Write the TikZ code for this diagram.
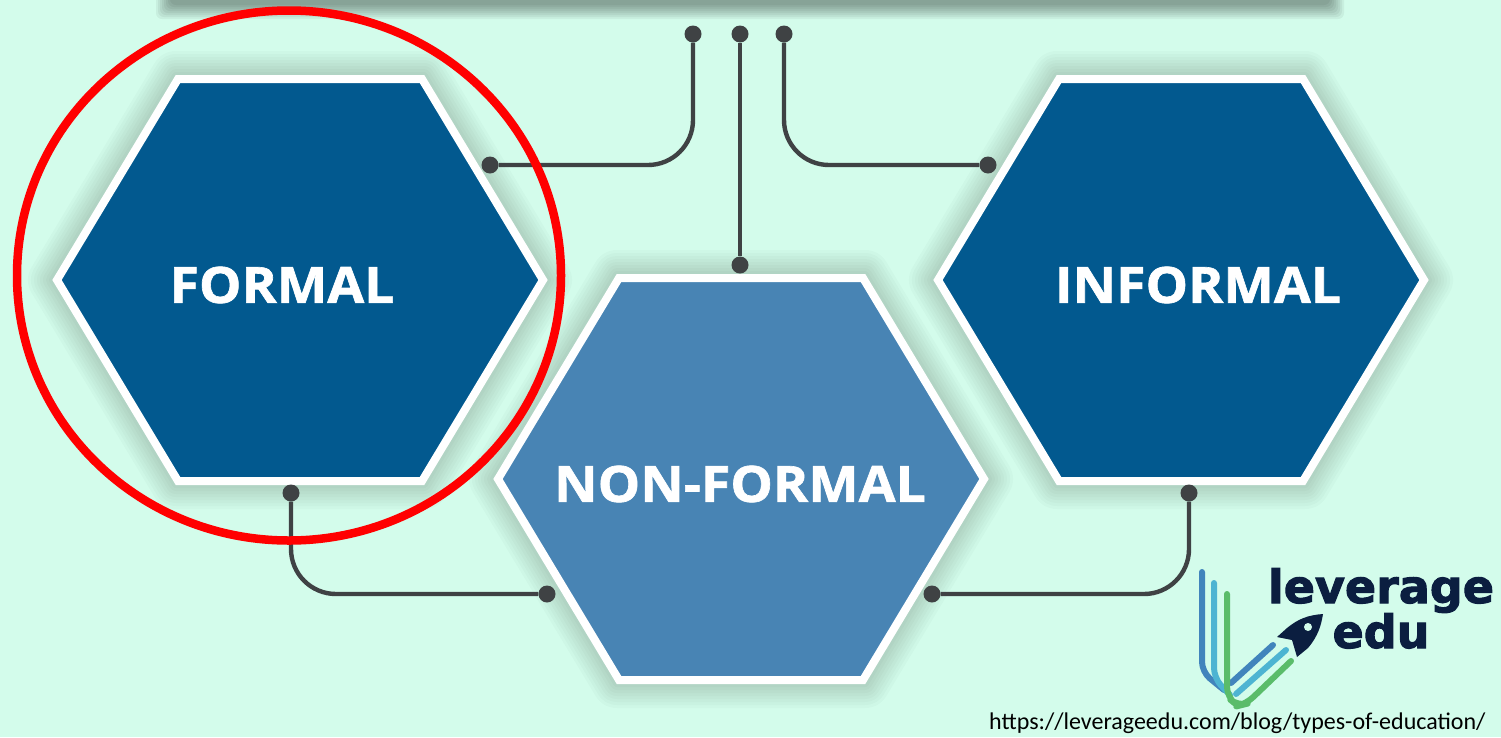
\documentclass[tikz,border=0pt]{standalone}
\usepackage{fontspec}
\usetikzlibrary{shapes.geometric}
\newfontfamily\hexfont[BoldFeatures={FakeBold=1.3,FakeStretch=1.07}]{Open Sans}
\newfontfamily\urlfont{Carlito}
\newfontfamily\logofont[BoldFeatures={FakeBold=2.2}]{DejaVu Sans}
\definecolor{bgmint}{HTML}{D3FCEB}
\definecolor{hexdark}{HTML}{02598F}
\definecolor{hexlight}{HTML}{4884B4}
\definecolor{wiregray}{HTML}{3F4244}
\definecolor{logonavy}{HTML}{0B1E40}
\definecolor{logoblue}{HTML}{4184BC}
\definecolor{logosky}{HTML}{4DB4D2}
\definecolor{logogreen}{HTML}{5ABC6A}
\newcommand{\hexa}[3]{
\foreach \w in {50,44,38,32,26,20,14,8}
	\draw[black,opacity=.018,line width=\w pt,line join=round,shift={(#1,#2)}]
		(-247,0)--(-124,-204)--(124,-204)--(247,0)--(124,204)--(-124,204)--cycle;
\draw[draw=white,fill=#3,line width=8pt,miter limit=10,shift={(#1,#2)}]
	(-243,0)--(-122,-201)--(122,-201)--(243,0)--(122,201)--(-122,201)--cycle;
}
\begin{document}
\begin{tikzpicture}[x=1pt,y=-1pt,
				dot/.style={circle,fill=wiregray,inner sep=0pt,minimum size=17pt},
				wire/.style={draw=wiregray,line width=4.4pt,rounded corners=45pt},
				hextext/.style={text=white,font=\hexfont\fontsize{50}{50}\selectfont\bfseries,inner sep=0pt},
				logotext/.style={text=logonavy,font=\logofont\fontsize{46}{46}\selectfont\bfseries,inner sep=0pt,anchor=base},
				logostroke/.style={line width=6pt,line cap=round,line join=round,rounded corners=10pt}]
\useasboundingbox (0,0) rectangle (1501,737);
\fill[bgmint] (0,0) rectangle (1501,737);
% top bar
\foreach \e in {14,12,10,8,6,4,2,0}
	\fill[black,opacity=.05,rounded corners=6pt] (170-\e,-20) rectangle (1330+\e,5+\e);
% hexagons
\hexa{300}{280}{hexdark}
\hexa{1181}{280}{hexdark}
\hexa{741}{479}{hexlight}
\node[hextext] (formal) at (282,285) {FORMAL};
\node[hextext] (informal) at (1198,285) {INFORMAL};
\node[hextext] (nonformal) at (740,484) {NON-FORMAL};
% connectors
\node[dot] (topa) at (693,34) {};
\node[dot] (topb) at (740,34) {};
\node[dot] (topc) at (784,34) {};
\node[dot] (enda) at (490,165) {};
\node[dot] (endb) at (740,265) {};
\node[dot] (endc) at (988,165) {};
\node[dot] (lowa) at (291,493) {};
\node[dot] (lowb) at (547,594) {};
\node[dot] (lowc) at (1189,493) {};
\node[dot] (lowd) at (932,594) {};
\draw[wire] (topa) |- (enda);
\draw[wire] (topb) -- (endb);
\draw[wire] (topc) |- (endc);
\draw[wire] (lowa) |- (lowb);
\draw[wire] (lowc) |- (lowd);
% circle
\node[draw=red,line width=8.5pt,ellipse,inner sep=0pt,minimum width=544pt,minimum height=530pt] (ring) at (289,275.5) {};
% logo
\draw[logostroke,draw=logoblue] (1202,572) -- (1202,672) -- (1224,690);
\draw[logostroke,draw=logoblue] (1231,683) -- (1273,645);
\draw[logostroke,draw=logosky] (1214,583) -- (1214,678) -- (1230,695);
\draw[logostroke,draw=logosky] (1236,694) -- (1286,650);
\draw[logostroke,draw=logogreen] (1227,594) -- (1227,697) -- (1238,706) -- (1246,704) -- (1291,661);
\fill[logonavy] (1323,614) .. controls (1308,615) and (1298,619) .. (1287,628)
	-- (1277,637) -- (1292,640) -- (1297,657) -- (1308,648)
	.. controls (1318,636) and (1321,626) .. cycle;
\fill[bgmint] (1308,627) circle (4pt);
\node[logotext] (leverage) at (1381,603) {leverage};
\node[logotext] (edu) at (1381,648) {edu};
\node[font=\urlfont\fontsize{24}{24}\selectfont,inner sep=0pt,anchor=base west] (url) at (989,729) {https://leverageedu.com/blog/types-of-education/};
\end{tikzpicture}
\end{document}
